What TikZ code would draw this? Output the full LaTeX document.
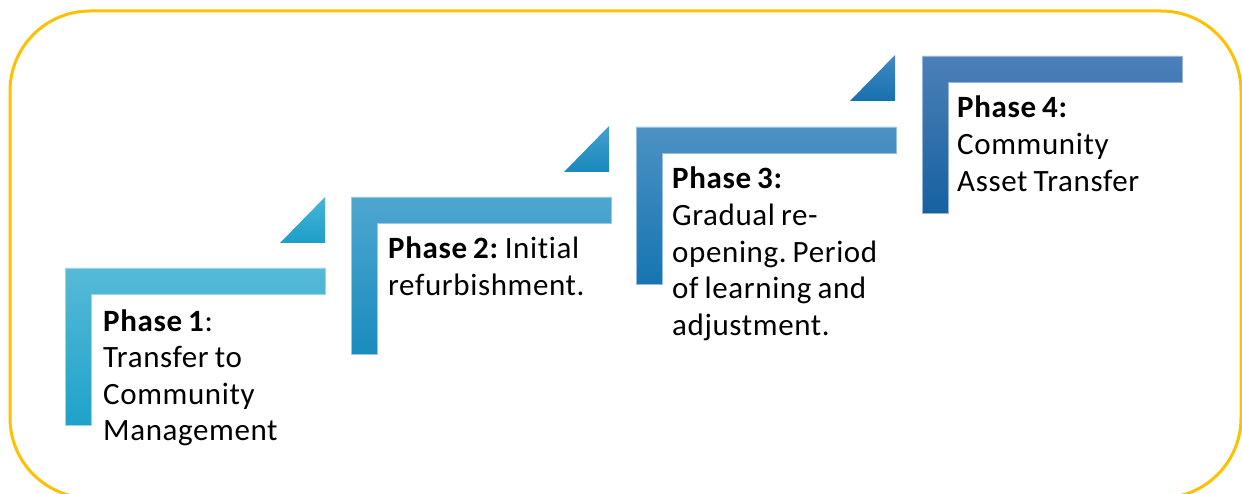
\documentclass[tikz,border=0pt]{standalone}
\usepackage{fontspec}
\setmainfont{Carlito}[LetterSpace=2, Ligatures={NoCommon}, WordSpace=0.8]
\frenchspacing
\definecolor{framegold}{RGB}{255,192,0}
\definecolor{pa}{RGB}{86,186,215}
\definecolor{pb}{RGB}{30,162,201}
\definecolor{qa}{RGB}{78,166,208}
\definecolor{qb}{RGB}{26,140,190}
\definecolor{ra}{RGB}{76,146,196}
\definecolor{rb}{RGB}{22,117,177}
\definecolor{sa}{RGB}{76,128,185}
\definecolor{sb}{RGB}{22,97,160}
\definecolor{ta}{RGB}{70,182,216}
\definecolor{tb}{RGB}{30,158,200}
\definecolor{ua}{RGB}{70,160,208}
\definecolor{ub}{RGB}{24,136,188}
\definecolor{va}{RGB}{66,138,196}
\definecolor{vb}{RGB}{22,112,174}
\begin{document}
\begin{tikzpicture}[x=1pt,y=-1pt,
  frame/.style={draw=framegold, line width=3pt, rounded corners=80pt},
  phasetext/.style={anchor=base west, inner sep=0pt, font=\fontsize{31}{36.6}\selectfont},
  pics/stepL/.style n args={2}{code={
    \shade[top color=#1, bottom color=#2, draw=#1!60!white, line width=0.6pt]
      (0,0) -- (260,0) -- (260,26) -- (26,26) -- (26,157) -- (0,157) -- cycle;
  }},
  pics/steptri/.style n args={2}{code={
    \shade[top color=#1, bottom color=#2]
      (-45,0) -- (0,0) -- (0,-46) -- cycle;
  }}]
\useasboundingbox (0,0) rectangle (1242,494);

% rounded frame around the whole staircase
\draw[frame] (10,11) rectangle (1241,498);

% the four steps
\pic at (65,268)  {stepL={pa}{pb}};
\pic at (351,197) {stepL={qa}{qb}};
\pic at (636,127) {stepL={ra}{rb}};
\pic at (922,56)  {stepL={sa}{sb}};

% small triangles leading up to the next step
\pic at (325,243) {steptri={ta}{tb}};
\pic at (609,172) {steptri={ua}{ub}};
\pic at (895,101) {steptri={va}{vb}};

% phase descriptions
\node[phasetext] (p1) at (103,331) {\begin{tabular}[t]{@{}l@{}}\textbf{Phase 1}:\\Transfer to\\Community\\Management\end{tabular}};
\node[phasetext] (p2) at (388,259) {\begin{tabular}[t]{@{}l@{}}\textbf{Phase 2:} Initial\\refurbishment.\end{tabular}};
\node[phasetext] (p3) at (672,189) {\begin{tabular}[t]{@{}l@{}}\textbf{Phase 3:}\\Gradual re-\\opening. Period\\of learning and\\adjustment.\end{tabular}};
\node[phasetext] (p4) at (957,118) {\begin{tabular}[t]{@{}l@{}}\textbf{Phase 4:}\\Community\\Asset Transfer\end{tabular}};
\end{tikzpicture}
\end{document}
